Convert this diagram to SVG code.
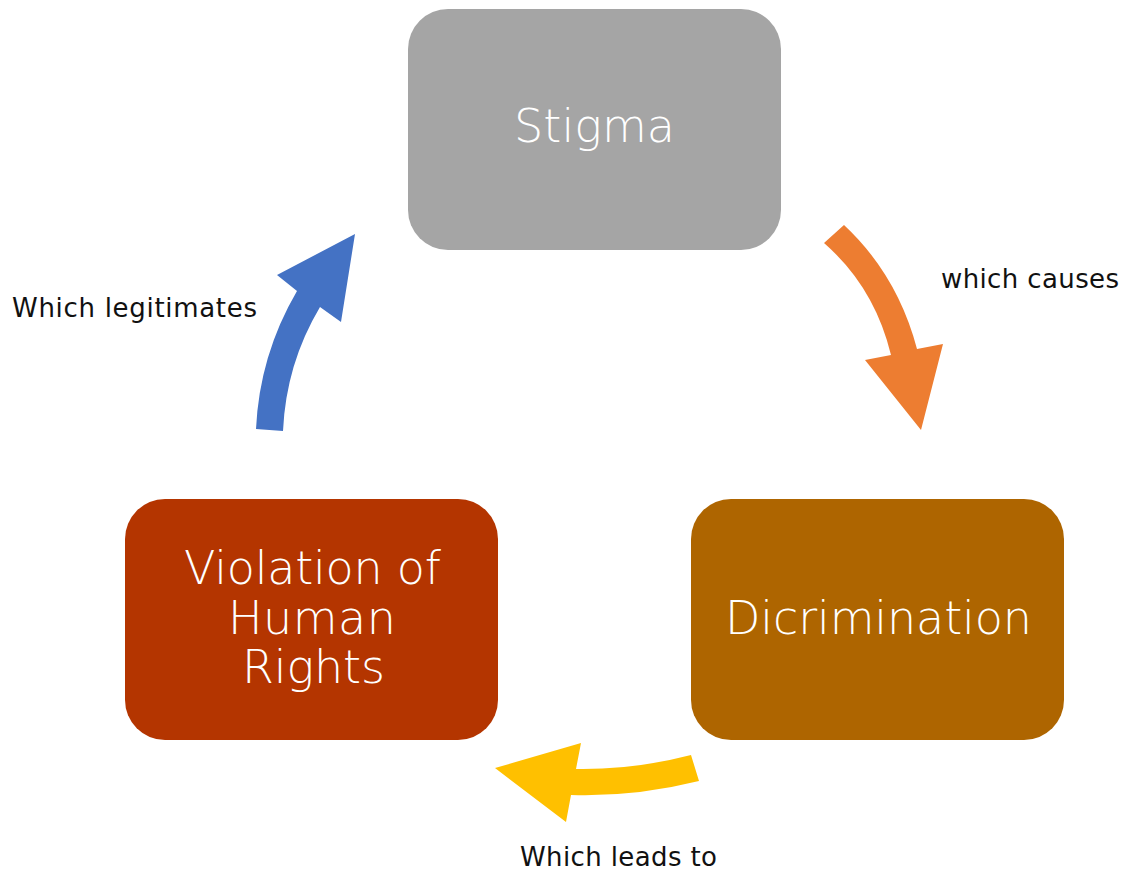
<svg xmlns="http://www.w3.org/2000/svg" width="1128" height="870" viewBox="0 0 1128 870">
<style>
.node-text{font-family:"DejaVu Sans","Liberation Sans",sans-serif;font-size:46px;font-weight:300;fill:#ffffff;text-anchor:middle}
.label{font-family:"DejaVu Sans","Liberation Sans",sans-serif;font-size:26px;font-weight:400;fill:#111111}
</style>
<rect width="1128" height="870" fill="#ffffff"/>
<g id="connectors">
<path id="arrow-causes" fill="#ED7D31" d="M824,243 Q874.5,287 891,355 L865,360 L921,430 L943,344 L917,349 Q897.5,275 844,225 Z"/>
<path id="arrow-leads" fill="#FFC000" d="M691,755 Q633.5,770 576,769 L581,743 L495,768 L566,822 L571,795 Q635,797 699,781 Z"/>
<path id="arrow-legitimates" fill="#4472C4" d="M256,429 Q259.5,355 297,291 L277,275 L355,234 L341,322 L320,307 Q286,364 283,431 Z"/>
<text class="label" x="941" y="288" textLength="178" lengthAdjust="spacing">which causes</text>
<text class="label" x="520" y="866" textLength="197" lengthAdjust="spacing">Which leads to</text>
<text class="label" x="12" y="317" textLength="245" lengthAdjust="spacing">Which legitimates</text>
</g>
<g id="node-stigma">
<rect x="408" y="9" width="373" height="241" rx="40" ry="40" fill="#A5A5A5"/>
<text class="node-text" x="594.5" y="142" textLength="161" lengthAdjust="spacing">Stigma</text>
</g>
<g id="node-discrimination">
<rect x="691" y="499" width="373" height="241" rx="40" ry="40" fill="#AE6500"/>
<text class="node-text" x="878.5" y="634" textLength="307" lengthAdjust="spacing">Dicrimination</text>
</g>
<g id="node-violation">
<rect x="125" y="499" width="373" height="241" rx="40" ry="40" fill="#B43500"/>
<text class="node-text" x="312.5" y="584" textLength="257" lengthAdjust="spacing">Violation of</text>
<text class="node-text" x="312" y="634" textLength="168" lengthAdjust="spacing">Human</text>
<text class="node-text" x="313.5" y="683" textLength="143" lengthAdjust="spacing">Rights</text>
</g>
</svg>
